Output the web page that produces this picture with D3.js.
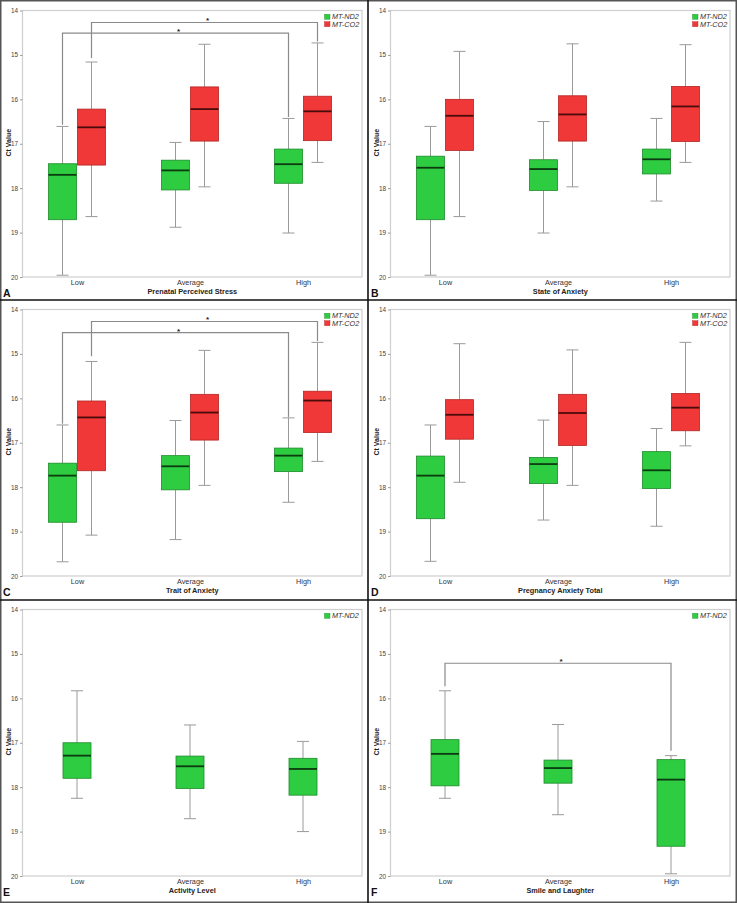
<!DOCTYPE html>
<html><head><meta charset="utf-8">
<script src="https://cdn.jsdelivr.net/npm/d3@7"></script>
<style>
body{margin:0;background:#fff}
svg{display:block}
text{font-family:"Liberation Sans",Arial,Helvetica,sans-serif}
</style>
</head><body>
<svg id="chart" width="737" height="903"></svg>
<script>
// ---------- data ----------
const categories = ["Low", "Average", "High"];
const seriesNames = ["MT-ND2", "MT-CO2"];
const seriesFill = ["#2ecc40", "#f03838"];
const seriesStroke = ["#1d8a2b", "#b32424"];
const seriesMedian = ["#0c3a12", "#4a0b0b"];
const yTicks = [14, 15, 16, 17, 18, 19, 20];
const panelLetters = ["A", "B", "C", "D", "E", "F"];
const panelTitles = ["Prenatal Perceived Stress", "State of Anxiety", "Trait of Anxiety",
                     "Pregnancy Anxiety Total", "Activity Level", "Smile and Laughter"];

// each box: [upper whisker (low Ct), box top, median, box bottom, lower whisker (high Ct)]
const nd2A = [[16.61, 17.45, 17.70, 18.71, 19.96], [16.97, 17.37, 17.60, 18.04, 18.88], [16.43, 17.12, 17.46, 17.89, 19.01]];
const co2A = [[15.16, 16.22, 16.63, 17.48, 18.64], [14.76, 15.72, 16.22, 16.94, 17.97], [14.73, 15.93, 16.27, 16.93, 17.42]];
const nd2B = [[16.61, 17.28, 17.54, 18.71, 19.96], [16.50, 17.36, 17.57, 18.05, 19.01], [16.43, 17.12, 17.35, 17.68, 18.29]];
const co2B = [[14.92, 16.00, 16.37, 17.15, 18.64], [14.75, 15.92, 16.34, 16.94, 17.97], [14.77, 15.71, 16.16, 16.95, 17.42]];
const nd2C = [[16.60, 17.46, 17.74, 18.79, 19.68], [16.50, 17.29, 17.53, 18.06, 19.18], [16.44, 17.12, 17.29, 17.65, 18.34]];
const co2C = [[15.17, 16.06, 16.43, 17.63, 19.08], [14.92, 15.91, 16.32, 16.94, 17.96], [14.74, 15.84, 16.05, 16.77, 17.42]];
const nd2D = [[16.60, 17.30, 17.74, 18.71, 19.67], [16.49, 17.33, 17.48, 17.92, 18.74], [16.68, 17.20, 17.62, 18.03, 18.88]];
const co2D = [[14.77, 16.03, 16.37, 16.92, 17.89], [14.91, 15.91, 16.33, 17.06, 17.96], [14.74, 15.89, 16.21, 16.73, 17.07]];
const nd2E = [[15.83, 17.00, 17.29, 17.80, 18.25], [16.60, 17.30, 17.53, 18.03, 18.71], [16.97, 17.35, 17.59, 18.18, 19.00]];
const nd2F = [[15.83, 16.93, 17.25, 17.97, 18.25], [16.59, 17.39, 17.57, 17.91, 18.62], [17.29, 17.38, 17.83, 19.33, 19.95]];

// significance brackets: series index, categories joined, bracket level, leg ends (Ct units)
const sigA = [{series: 1, from: "Low", to: "High", level: 14.27, fromEnd: 15.07, toEnd: 14.70},
              {series: 0, from: "Low", to: "High", level: 14.51, fromEnd: 16.57, toEnd: 16.40}];
const sigC = [{series: 1, from: "Low", to: "High", level: 14.27, fromEnd: 15.05, toEnd: 14.71},
              {series: 0, from: "Low", to: "High", level: 14.52, fromEnd: 16.57, toEnd: 16.42}];
const sigF = [{series: 0, from: "Low", to: "High", level: 15.21, fromEnd: 15.73, toEnd: 17.18}];

const panels = [
  {series: [nd2A, co2A], sig: sigA},
  {series: [nd2B, co2B], sig: []},
  {series: [nd2C, co2C], sig: sigC},
  {series: [nd2D, co2D], sig: []},
  {series: [nd2E], sig: []},
  {series: [nd2F], sig: sigF}
];

// ---------- drawing ----------
const svg = d3.select("#chart");
const W = 737, H = 903;
const colX = [0, 368], rowY = [0, 299, 599];
const boxW = 28, capHalf = 6;
const FONT = "'Liberation Sans',Arial,sans-serif";

panels.forEach((p, i) => {
  const ox = colX[i % 2], oy = rowY[Math.floor(i / 2)];
  const left = ox + 22.5, right = ox + 362, top = oy + 10.5, bottom = oy + 277;
  const g = svg.append("g");

  const y = d3.scaleLinear().domain([14, 20]).range([top, bottom]);
  const x = d3.scalePoint().domain(categories).range([left + 54.5, left + 280.5]);
  const nS = p.series.length;
  const offset = s => nS === 1 ? 0 : (s === 0 ? -boxW / 2 - 0.5 : boxW / 2 + 0.5);

  // plot frame
  g.append("rect").attr("x", left).attr("y", top).attr("width", right - left).attr("height", bottom - top)
    .attr("fill", "none").attr("stroke", "#cfcfcf").attr("stroke-width", 1.2);

  // y axis
  const ya = g.append("g").attr("transform", `translate(${left},0)`)
    .call(d3.axisLeft(y).tickValues(yTicks).tickFormat(d3.format("d")).tickSize(2.5).tickPadding(2));
  ya.select(".domain").remove();
  ya.selectAll(".tick line").attr("stroke", "#9a9a9a");
  ya.selectAll(".tick text").style("fill", "#444").style("font-size", "6.4px").style("font-family", FONT);

  // x axis
  const xa = g.append("g").attr("transform", `translate(0,${bottom})`)
    .call(d3.axisBottom(x).tickSize(0).tickPadding(3));
  xa.select(".domain").remove();
  xa.selectAll(".tick text").style("fill", "#333").style("font-size", "7.3px").style("font-family", FONT);

  // axis titles
  g.append("text").attr("x", (left + right) / 2).attr("y", bottom + 17)
    .attr("text-anchor", "middle").attr("font-weight", "bold").attr("font-size", "7.3px").style("fill", "#222")
    .text(panelTitles[i]);
  g.append("text").attr("transform", `translate(${ox + 11},${(top + bottom) / 2 - 1}) rotate(-90)`)
    .attr("text-anchor", "middle").attr("font-weight", "bold").attr("font-size", "7px").style("fill", "#222")
    .text("Ct Value");

  // panel letter
  g.append("text").attr("x", ox + 3).attr("y", bottom + 20.3)
    .attr("font-size", "10.5px").attr("font-weight", "bold").style("fill", "#111")
    .text(panelLetters[i]);

  // boxes
  p.series.forEach((vals, s) => {
    const sg = g.append("g");
    vals.forEach((v, ci) => {
      const cx = x(categories[ci]) + offset(s);
      const [w1, q1, med, q3, w2] = v;
      const wl = "#9a9a9a";
      sg.append("line").attr("x1", cx).attr("x2", cx).attr("y1", y(w1)).attr("y2", y(q1)).attr("stroke", wl).attr("stroke-width", 1);
      sg.append("line").attr("x1", cx).attr("x2", cx).attr("y1", y(q3)).attr("y2", y(w2)).attr("stroke", wl).attr("stroke-width", 1);
      [w1, w2].forEach(wv => sg.append("line").attr("x1", cx - capHalf).attr("x2", cx + capHalf)
        .attr("y1", y(wv)).attr("y2", y(wv)).attr("stroke", wl).attr("stroke-width", 1));
      sg.append("rect").attr("x", cx - boxW / 2).attr("y", y(q1)).attr("width", boxW).attr("height", y(q3) - y(q1))
        .attr("fill", seriesFill[s]).attr("stroke", seriesStroke[s]).attr("stroke-width", 0.8);
      sg.append("line").attr("x1", cx - boxW / 2).attr("x2", cx + boxW / 2).attr("y1", y(med)).attr("y2", y(med))
        .attr("stroke", seriesMedian[s]).attr("stroke-width", 1.8);
    });
  });

  // significance brackets
  p.sig.forEach(b => {
    const x1 = x(b.from) + offset(b.series), x2 = x(b.to) + offset(b.series);
    g.append("path")
      .attr("d", `M${x1},${y(b.fromEnd)}V${y(b.level)}H${x2}V${y(b.toEnd)}`)
      .attr("fill", "none").attr("stroke", "#8a8a8a").attr("stroke-width", 1.2);
    g.append("text").attr("x", (x1 + x2) / 2 + 3).attr("y", y(b.level) + 1)
      .attr("text-anchor", "middle").attr("font-size", "8px").attr("font-weight", "bold").style("fill", "#222")
      .text("*");
  });

  // legend
  const lg = g.append("g");
  p.series.forEach((vals, s) => {
    const ly = top + 3.8 + s * 7.4;
    lg.append("rect").attr("x", right - 37.5).attr("y", ly).attr("width", 5.5).attr("height", 5)
      .attr("fill", seriesFill[s]).attr("stroke", seriesStroke[s]).attr("stroke-width", 0.4);
    lg.append("text").attr("x", right - 30).attr("y", ly + 5)
      .attr("font-size", "7.3px").attr("font-style", "italic").style("fill", "#333")
      .text(seriesNames[s]);
  });
});

// panel frame lines
svg.append("rect").attr("x", 0.75).attr("y", 0.75).attr("width", W - 1.5).attr("height", H - 1.5)
  .attr("fill", "none").attr("stroke", "#555").attr("stroke-width", 1.5);
svg.append("line").attr("x1", 368).attr("x2", 368).attr("y1", 0).attr("y2", H).attr("stroke", "#111").attr("stroke-width", 1.6);
[300, 600].forEach(yy => svg.append("line").attr("x1", 0).attr("x2", W).attr("y1", yy).attr("y2", yy)
  .attr("stroke", "#111").attr("stroke-width", 1.6));
</script>
</body></html>
